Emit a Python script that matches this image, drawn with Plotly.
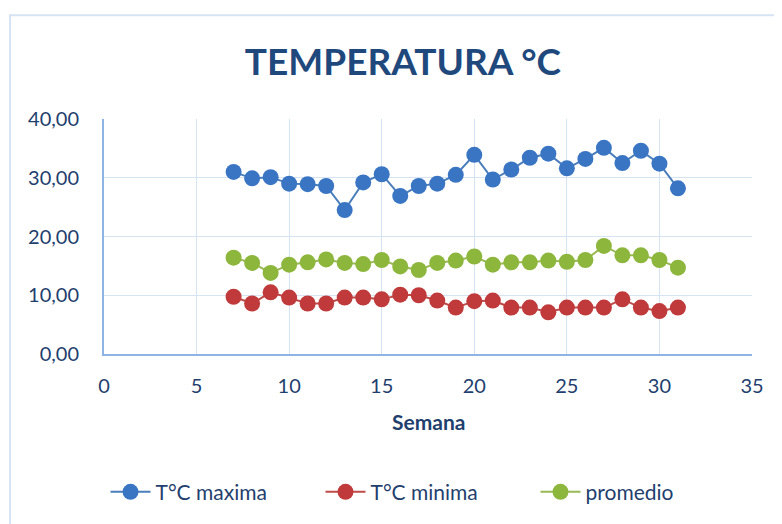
import plotly.graph_objects as go

semana = list(range(7, 32))
t_max = [31.0, 29.9, 30.1, 29.0, 28.9, 28.6, 24.5, 29.2, 30.6, 26.9, 28.6, 29.0, 30.5,
         33.9, 29.7, 31.4, 33.4, 34.1, 31.6, 33.2, 35.1, 32.5, 34.6, 32.4, 28.2]
t_min = [9.75, 8.6, 10.5, 9.6, 8.6, 8.6, 9.6, 9.6, 9.3, 10.1, 10.0, 9.1, 7.9,
         9.0, 9.1, 7.9, 7.9, 7.1, 7.9, 7.9, 7.9, 9.3, 7.9, 7.3, 7.9]
promedio = [16.4, 15.5, 13.8, 15.2, 15.6, 16.1, 15.5, 15.3, 16.0, 14.9, 14.3, 15.5, 15.9,
            16.6, 15.2, 15.6, 15.6, 15.9, 15.7, 16.0, 18.4, 16.8, 16.8, 16.0, 14.7]

y_ticks = [0, 10, 20, 30, 40]
y_labels = ["0,00", "10,00", "20,00", "30,00", "40,00"]
x_ticks = [0, 5, 10, 15, 20, 25, 30, 35]

series = [
    ("T°C maxima", t_max, "#3A75C4", "#4A7EBB"),
    ("T°C minima", t_min, "#C0393B", "#BE4B48"),
    ("promedio", promedio, "#8DB63C", "#98B954"),
]

text_color = "#1F3F6E"
fig = go.Figure()
for name, vals, mcol, lcol in series:
    fig.add_trace(go.Scatter(
        x=semana, y=vals, name=name, mode="lines+markers",
        line=dict(color=lcol, width=2),
        marker=dict(color=mcol, size=16, line=dict(width=0)),
    ))

fig.update_layout(
    width=774, height=516,
    margin=dict(l=96, r=30, t=111, b=167),
    paper_bgcolor="white", plot_bgcolor="white",
    font=dict(family="Lato, 'Noto Sans', sans-serif", color=text_color, size=20),
    title=dict(text="<b>TEMPERATURA °C</b>", x=0.5103, xanchor="center", y=0.895, yanchor="middle",
               font=dict(size=37, color="#1F497D")),
    showlegend=True,
    legend=dict(orientation="h", x=0.5, xanchor="center", y=-0.588, yanchor="middle",
                font=dict(size=21, color=text_color), itemwidth=40, entrywidth=160,
                traceorder="normal", tracegroupgap=0),
    xaxis=dict(range=[0, 35], tickvals=x_ticks, ticktext=[str(v) for v in x_ticks],
               showgrid=True, gridcolor="#D6E3F3", gridwidth=1,
               showline=True, linecolor="#8EB4E3", linewidth=2, zeroline=False,
               ticks="outside", ticklen=13, tickcolor="rgba(0,0,0,0)", tickfont=dict(size=20)),
    yaxis=dict(range=[0, 40], tickvals=y_ticks, ticktext=y_labels,
               showgrid=True, gridcolor="#D6E3F3", gridwidth=1,
               showline=True, linecolor="#8EB4E3", linewidth=2, zeroline=False,
               ticks="outside", ticklen=19, tickcolor="rgba(0,0,0,0)", tickfont=dict(size=20)),
)

fig.add_annotation(text="<b>Semana</b>", xref="paper", yref="paper", x=0.5, y=-0.286,
                   xanchor="center", yanchor="middle", showarrow=False,
                   font=dict(size=21, color=text_color))

fig.add_shape(type="rect", xref="paper", yref="paper",
              x0=-0.145, x1=1.2, y0=-0.8, y1=1.441,
              line=dict(color="#D5E3F3", width=2), layer="below")

fig.write_html("out.html")
